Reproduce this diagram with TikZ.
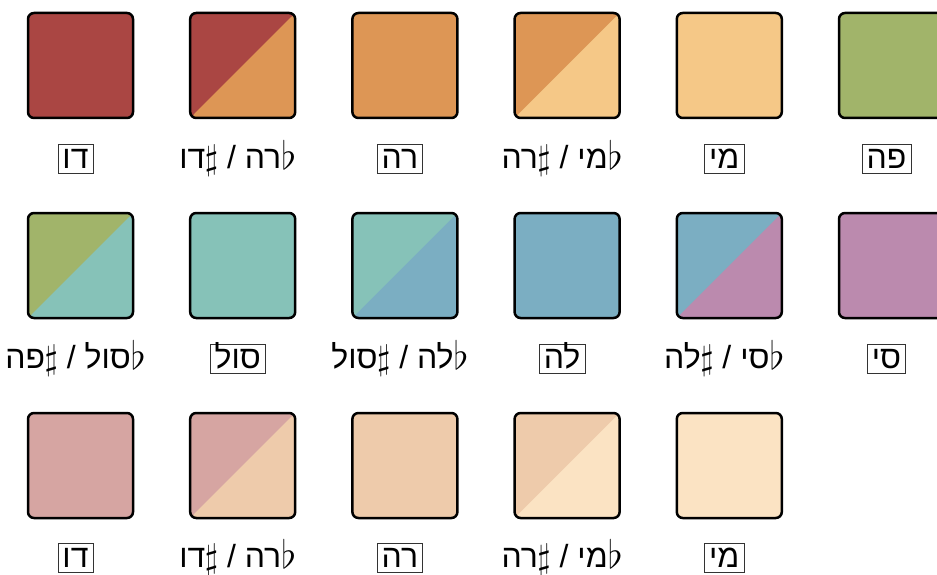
\RequirePackage{fix-cm}
\documentclass[tikz,border=0pt]{standalone}
\usepackage{fontspec}
\TeXXeTstate=1
\newfontfamily\hebfont[Script=Hebrew]{Liberation Sans}
\newcommand\mflat{\lower1pt\hbox{\fontsize{39}{39}\selectfont$\flat$}}
\newcommand\msharp{\lower1pt\hbox{\fontsize{35}{35}\selectfont$\sharp$}\kern-0.5pt}
\definecolor{cC}{RGB}{170,70,67}
\definecolor{cD}{RGB}{221,150,85}
\definecolor{cE}{RGB}{245,200,135}
\definecolor{cF}{RGB}{161,180,106}
\definecolor{cG}{RGB}{134,194,184}
\definecolor{cA}{RGB}{123,174,194}
\definecolor{cB}{RGB}{187,138,174}
\definecolor{lC}{RGB}{214,165,162}
\definecolor{lD}{RGB}{238,203,171}
\definecolor{lE}{RGB}{251,227,195}
\tikzset{
  sq/.style={rectangle, rounded corners=6pt, minimum size=105pt, line width=2.5pt, draw=black, inner sep=0pt, outer sep=0pt},
  split/.style 2 args={sq, fill=#1, path picture={\fill[#2] (path picture bounding box.south west) -- (path picture bounding box.north east) -- (path picture bounding box.south east) -- cycle;}},
  lbl/.style={font=\hebfont\fontsize{32}{37}\selectfont, inner xsep=4pt, inner ysep=4pt, text height=20pt, text depth=1pt},
  nat/.style={lbl, inner xsep=4.5pt, draw=black!80, line width=0.8pt}
}
\begin{document}
\begin{tikzpicture}[x=1pt,y=-1pt]
\useasboundingbox (0,0) rectangle (937,575);
% row 1
\node[sq, fill=cC] (s11) at (80.5,65.5) {};
\node[split={cC}{cD}] (s12) at (242.7,65.5) {};
\node[sq, fill=cD] (s13) at (404.9,65.5) {};
\node[split={cD}{cE}] (s14) at (567.1,65.5) {};
\node[sq, fill=cE] (s15) at (729.3,65.5) {};
\node[sq, fill=cF] (s16) at (891.5,65.5) {};
\node[nat] (l11) at (75.5,158.5) {\beginR דו\endR};
\node[lbl] (l12) at (237.7,158.5) {\beginR\mflat רה / \msharp דו\endR};
\node[nat] (l13) at (399.9,158.5) {\beginR רה\endR};
\node[lbl] (l14) at (562.1,158.5) {\beginR\mflat מי / \msharp רה\endR};
\node[nat] (l15) at (724.3,158.5) {\beginR מי\endR};
\node[nat] (l16) at (886.5,158.5) {\beginR פה\endR};
% row 2
\node[split={cF}{cG}] (s21) at (80.5,265.5) {};
\node[sq, fill=cG] (s22) at (242.7,265.5) {};
\node[split={cG}{cA}] (s23) at (404.9,265.5) {};
\node[sq, fill=cA] (s24) at (567.1,265.5) {};
\node[split={cA}{cB}] (s25) at (729.3,265.5) {};
\node[sq, fill=cB] (s26) at (891.5,265.5) {};
\node[lbl] (l21) at (75.5,358.5) {\beginR\mflat סול / \msharp פה\endR};
\node[nat] (l22) at (237.7,358.5) {\beginR סול\endR};
\node[lbl] (l23) at (399.9,358.5) {\beginR\mflat לה / \msharp סול\endR};
\node[nat] (l24) at (562.1,358.5) {\beginR לה\endR};
\node[lbl] (l25) at (724.3,358.5) {\beginR\mflat סי / \msharp לה\endR};
\node[nat] (l26) at (886.5,358.5) {\beginR סי\endR};
% row 3
\node[sq, fill=lC] (s31) at (80.5,465.5) {};
\node[split={lC}{lD}] (s32) at (242.7,465.5) {};
\node[sq, fill=lD] (s33) at (404.9,465.5) {};
\node[split={lD}{lE}] (s34) at (567.1,465.5) {};
\node[sq, fill=lE] (s35) at (729.3,465.5) {};
\node[nat] (l31) at (75.5,557.5) {\beginR דו\endR};
\node[lbl] (l32) at (237.7,557.5) {\beginR\mflat רה / \msharp דו\endR};
\node[nat] (l33) at (399.9,557.5) {\beginR רה\endR};
\node[lbl] (l34) at (562.1,557.5) {\beginR\mflat מי / \msharp רה\endR};
\node[nat] (l35) at (724.3,557.5) {\beginR מי\endR};
\end{tikzpicture}
\end{document}
